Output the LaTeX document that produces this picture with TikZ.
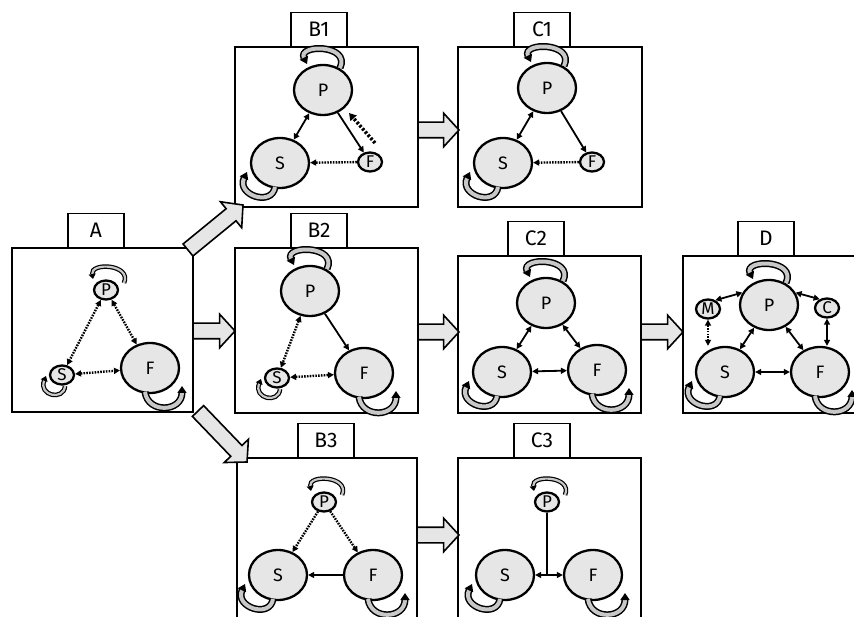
\documentclass[tikz,border=0pt]{standalone}
\usepackage{fontspec}
\setmainfont{Fira Sans}
\usetikzlibrary{arrows.meta,shapes.arrows,shapes.geometric,calc}
\definecolor{nodefill}{RGB}{230,230,230}
\definecolor{loopfill}{RGB}{200,200,200}
\definecolor{arrowfill}{RGB}{230,230,230}
\tikzset{
  panel/.style={draw, line width=2.6pt},
  tag/.style={draw, line width=1.4pt, fill=white, minimum width=56pt, minimum height=34pt, inner sep=0pt, font=\fontsize{21}{24}\selectfont, anchor=south},
  big/.style={ellipse, draw, line width=2.3pt, fill=nodefill, minimum width=58pt, minimum height=50pt, inner sep=0pt, font=\fontsize{18}{20}\selectfont},
  small/.style={ellipse, draw, line width=2.3pt, fill=nodefill, minimum width=24pt, minimum height=19pt, inner sep=0pt, font=\fontsize{17}{19}\selectfont},
  >={Triangle[length=6pt,width=6pt]},
  solidarr/.style={line width=1.8pt},
  dotarr/.style={line width=2.4pt, dash pattern=on 1.6pt off 1.2pt},
  thickdash/.style={line width=3.5pt, dash pattern=on 2.4pt off 1.8pt, -{Triangle[length=7pt,width=8pt]}},
  loopbig/.style={draw=black, line width=1.5pt, double=loopfill, double distance=4pt, -{Triangle[length=7pt,width=9pt,fill=black]}},
  loopsmall/.style={draw=black, line width=1.2pt, double=loopfill, double distance=2.2pt, -{Triangle[length=5pt,width=7pt,fill=black]}},
  blockarr/.style={to path={
    let \p1=($(\tikztotarget)-(\tikztostart)$), \n1={veclen(\x1,\y1)}, \n2={atan2(\y1,\x1)} in
    node[single arrow, draw=black, line width=1.6pt, fill=arrowfill, inner xsep=0pt, inner ysep=7pt,
         single arrow head extend=9pt, single arrow tip angle=95, minimum height=\n1, minimum width=0pt,
         rotate=\n2, anchor=tail, outer sep=0pt] at (\tikztostart) {}
  }}
}
\newcommand\lptop[1]{\draw[loopbig] ($(#1)+(17,-22)$) .. controls ($(#1)+(28,-46)$) and ($(#1)+(-26,-46)$) .. ($(#1)+(-16,-26)$);}
\newcommand\lpbl[1]{\draw[loopbig] ($(#1)+(-5,24)$) .. controls ($(#1)+(-8,44)$) and ($(#1)+(-44,32)$) .. ($(#1)+(-33,9)$);}
\newcommand\lpbr[1]{\draw[loopbig] ($(#1)+(-5,24)$) .. controls ($(#1)+(-2,46)$) and ($(#1)+(32,44)$) .. ($(#1)+(32,18)$);}
\newcommand\lptopsm[1]{\draw[loopsmall] ($(#1)+(18,-7)$) .. controls ($(#1)+(26,-26)$) and ($(#1)+(-16,-28)$) .. ($(#1)+(-13,-11)$);}
\newcommand\lpblsm[1]{\draw[loopsmall] ($(#1)+(3,11)$) .. controls ($(#1)+(2,26)$) and ($(#1)+(-24,21)$) .. ($(#1)+(-16,1)$);}
\begin{document}
\begin{tikzpicture}[x=1pt,y=-1pt]
\useasboundingbox (0,0) rectangle (854,617);
\fill[white] (0,0) rectangle (854,617);
% panels
\draw[panel] (12,248) rectangle (193,412);
\draw[panel] (235,47) rectangle (418,207);
\draw[panel] (458,47) rectangle (642,207);
\draw[panel] (235,248) rectangle (418,413);
\draw[panel] (458,256) rectangle (641,413);
\draw[panel] (857,256) -- (683,256) -- (683,413) -- (857,413);
\draw[panel] (237,619) -- (237,458) -- (417,458) -- (417,619);
\draw[panel] (458,619) -- (458,458) -- (641,458) -- (641,619);
% tags
\node[tag] (tA) at (96,248) {A};
\node[tag] (tB1) at (319,47) {B1};
\node[tag] (tC1) at (542,47) {C1};
\node[tag] (tB2) at (319,248) {B2};
\node[tag] (tC2) at (536,256) {C2};
\node[tag] (tD) at (766,256) {D};
\node[tag] (tB3) at (326,458) {B3};
\node[tag] (tC3) at (542,458) {C3};
% block arrows
\coordinate (abS) at (188,250); \coordinate (abE) at (243,205);
\coordinate (a2S) at (193,331); \coordinate (a2E) at (235,331);
\coordinate (a3S) at (198,411); \coordinate (a3E) at (247,462);
\coordinate (bc1S) at (418,130); \coordinate (bc1E) at (459,130);
\coordinate (bc2S) at (418,332); \coordinate (bc2E) at (459,332);
\coordinate (cdS) at (641,332); \coordinate (cdE) at (683,332);
\coordinate (bc3S) at (417,535); \coordinate (bc3E) at (459,535);
\path (abS) to[blockarr] (abE);
\path (a2S) to[blockarr] (a2E);
\path (a3S) to[blockarr] (a3E);
\path (bc1S) to[blockarr] (bc1E);
\path (bc2S) to[blockarr] (bc2E);
\path (cdS) to[blockarr] (cdE);
\path (bc3S) to[blockarr] (bc3E);
% ---- A
\node[small] (aP) at (106,290) {P};
\node[small] (aS) at (62,375) {S};
\node[big] (aF) at (150,368) {F};
\draw[dotarr,<->] (aP) -- (aS);
\draw[dotarr,<->] (aP) -- (aF);
\draw[dotarr,<->] (aS) -- (aF);
\lptopsm{aP} \lpblsm{aS} \lpbr{aF}
% ---- B1
\node[big] (b1P) at (323,90) {P};
\node[big] (b1S) at (280,163) {S};
\node[small] (b1F) at (370,162) {F};
\draw[solidarr,<->] (b1P) -- (b1S);
\draw[solidarr,->] (b1P) -- (b1F);
\draw[dotarr,->] (b1F) -- (b1S);
\draw[thickdash] ($(b1F)+(5,-19)$) -- ($(b1P)+(26,23)$);
\lptop{b1P} \lpbl{b1S}
% ---- C1
\node[big] (c1P) at (547,88) {P};
\node[big] (c1S) at (503,163) {S};
\node[small] (c1F) at (592,162) {F};
\draw[solidarr,<->] (c1P) -- (c1S);
\draw[solidarr,->] (c1P) -- (c1F);
\draw[dotarr,->] (c1F) -- (c1S);
\lptop{c1P} \lpbl{c1S}
% ---- B2
\node[big] (b2P) at (310,291) {P};
\node[small] (b2S) at (277,378) {S};
\node[big] (b2F) at (364,373) {F};
\draw[dotarr,<->] (b2P) -- (b2S);
\draw[solidarr,->] (b2P) -- (b2F);
\draw[dotarr,<->] (b2S) -- (b2F);
\lptop{b2P} \lpblsm{b2S} \lpbr{b2F}
% ---- C2
\node[big] (c2P) at (546,303) {P};
\node[big] (c2S) at (502,372) {S};
\node[big] (c2F) at (597,370) {F};
\draw[solidarr,<->] (c2P) -- (c2S);
\draw[solidarr,<->] (c2P) -- (c2F);
\draw[solidarr,<->] (c2S) -- (c2F);
\lptop{c2P} \lpbl{c2S} \lpbr{c2F}
% ---- D
\node[big] (dP) at (769,305) {P};
\node[big] (dS) at (725,372) {S};
\node[big] (dF) at (820,372) {F};
\node[small] (dM) at (708,309) {M};
\node[small] (dC) at (827,308) {C};
\draw[solidarr,<->] (dP) -- (dS);
\draw[solidarr,<->] (dP) -- (dF);
\draw[solidarr,<->] (dS) -- (dF);
\draw[solidarr,<->] (dM.50) -- (dP.155);
\draw[solidarr,<->] (dP.25) -- (dC.130);
\draw[dotarr,<->] (dM.south) -- (dM.south |- dS.north);
\draw[solidarr,<->] (dC.south) -- (dC.south |- dF.north);
\lptop{dP} \lpbl{dS} \lpbr{dF}
% ---- B3
\node[small] (b3P) at (324,502) {P};
\node[big] (b3S) at (278,575) {S};
\node[big] (b3F) at (373,575) {F};
\draw[dotarr,->] (b3P) -- (b3S);
\draw[dotarr,->] (b3P) -- (b3F);
\draw[solidarr,->] (b3F) -- (b3S);
\lptopsm{b3P} \lpbl{b3S} \lpbr{b3F}
% ---- C3
\node[small] (c3P) at (547,502) {P};
\node[big] (c3S) at (505,575) {S};
\node[big] (c3F) at (593,575) {F};
\coordinate (c3J) at (c3P |- c3S);
\draw[solidarr] (c3P) -- (c3J);
\draw[solidarr,->] (c3J) -- (c3S);
\draw[solidarr,->] (c3J) -- (c3F);
\lptopsm{c3P} \lpbl{c3S} \lpbr{c3F}
\end{tikzpicture}
\end{document}
